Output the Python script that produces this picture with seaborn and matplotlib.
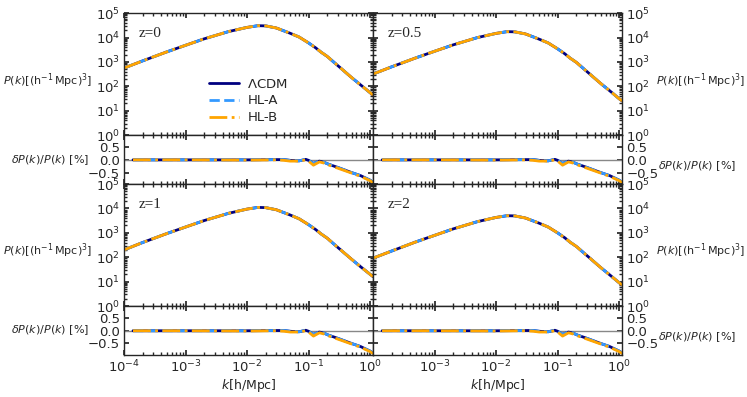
import numpy as np
import pandas as pd
import matplotlib
matplotlib.use('Agg')
import matplotlib.pyplot as plt
from matplotlib.ticker import LogLocator
import seaborn as sns

# wavenumbers [h/Mpc] and linear power spectra
k = [1e-4, 2e-4, 5e-4, 1e-3, 2e-3, 5e-3, 1e-2, 1.5e-2, 2e-2, 3e-2, 5e-2, 7e-2,
     0.1, 0.13, 0.16, 0.2, 0.3, 0.5, 0.7, 1.0, 1.12]
pk_z0 = [560, 1100, 2600, 4800, 8800, 17500, 26000, 30500, 30000, 24500, 15000, 10500,
         6000, 3800, 2500, 1700, 700, 230, 115, 55, 44]
pk_z05 = [320, 630, 1480, 2740, 5000, 10000, 14800, 17400, 17100, 14000, 8550, 6000,
          3420, 2170, 1420, 970, 400, 131, 66, 31, 25]
pk_z1 = [200, 400, 940, 1730, 3170, 6300, 9400, 11000, 10800, 8800, 5400, 3780,
         2160, 1370, 900, 610, 250, 83, 41, 20, 16]
pk_z2 = [92, 180, 430, 790, 1450, 2890, 4290, 5030, 4950, 4040, 2480, 1730,
         990, 630, 410, 280, 116, 38, 19, 9, 7.3]

# relative difference panels
k_ratio = [1.4e-4, 1e-3, 1e-2, 0.03, 0.04, 0.05, 0.07, 0.09, 0.1, 0.12, 0.15, 0.18,
           0.21, 0.3, 0.5, 0.7, 1.0, 1.12]
dp_lcdm = [0, 0, 0, 0.01, 0.01, -0.02, -0.04, 0.02, -0.02, -0.14, -0.05, -0.1,
           -0.17, -0.3, -0.5, -0.62, -0.8, -0.88]
dp_hla = [0, 0, 0, 0.01, 0.01, -0.02, -0.04, 0.02, -0.02, -0.14, -0.05, -0.1,
          -0.17, -0.3, -0.5, -0.62, -0.8, -0.88]
dp_hlb = [0, 0, -0.01, 0.0, -0.02, -0.05, -0.05, 0.0, -0.05, -0.21, -0.08, -0.13,
          -0.2, -0.33, -0.52, -0.65, -0.82, -0.9]

redshifts = ['z=0', 'z=0.5', 'z=1', 'z=2']
pk_all = [pk_z0, pk_z05, pk_z1, pk_z2]
models = [r'$\Lambda$CDM', 'HL-A', 'HL-B']
ratios = [dp_lcdm, dp_hla, dp_hlb]
colors = ['#000080', '#3399ff', '#ffa500']
styles = ['-', '--', '-.']

sns.set_theme(style='ticks', rc={'font.size': 9.5, 'axes.linewidth': 1.0,
                                 'xtick.direction': 'in', 'ytick.direction': 'in',
                                 'xtick.major.size': 3.5, 'ytick.major.size': 3.5,
                                 'xtick.minor.size': 2, 'ytick.minor.size': 2,
                                 'xtick.labelsize': 9.5, 'ytick.labelsize': 9.5,
                                 'xtick.major.pad': 3, 'ytick.major.pad': 3,
                                 'axes.labelsize': 8})
plt.rcParams['font.family'] = ['DejaVu Sans']

fig = plt.figure(figsize=(7.47, 3.97), dpi=100)
gs = fig.add_gridspec(4, 2, height_ratios=[2.5, 1, 2.5, 1], left=0.166, right=0.833,
                      top=0.967, bottom=0.106, wspace=0, hspace=0)

pk_label = r'$P(k)[(\mathrm{h^{-1}\,Mpc})^3]$'
dp_label = r'$\delta P(k)/P(k)$ [%]'

for i, (zname, pk) in enumerate(zip(redshifts, pk_all)):
    row = (i // 2) * 2
    col = i % 2
    ax_p = fig.add_subplot(gs[row, col])
    ax_r = fig.add_subplot(gs[row + 1, col])

    df = pd.DataFrame({'k': k, 'P': pk})
    for name, c, ls in zip(models, colors, styles):
        sns.lineplot(data=df, x='k', y='P', ax=ax_p, color=c, linestyle=ls, lw=2,
                     label=name, sort=False, estimator=None)
    ax_p.set_xscale('log')
    ax_p.set_yscale('log')
    ax_p.set_xlim(1e-4, 1.12)
    ax_p.set_ylim(1, 1e5)
    ax_p.yaxis.set_major_locator(LogLocator(base=10, numticks=10))
    ax_p.yaxis.set_minor_locator(LogLocator(base=10, subs=np.arange(2, 10), numticks=10))
    ax_p.text(0.06, 0.83, zname, transform=ax_p.transAxes, fontsize=11,
              family='Liberation Serif', va='center')

    ax_r.axhline(0, color='#888888', lw=1)
    for name, c, ls, dp in zip(models, colors, styles, ratios):
        sns.lineplot(x=k_ratio, y=dp, ax=ax_r, color=c, linestyle=ls, lw=2,
                     sort=False, estimator=None)
    ax_r.set_xscale('log')
    ax_r.set_xlim(1e-4, 1.12)
    ax_r.set_ylim(-0.95, 0.97)
    ax_r.set_yticks([-0.5, 0.0, 0.5])

    if i == 0:
        ax_p.legend(loc='center', bbox_to_anchor=(0.5, 0.28), frameon=False,
                    handlelength=2.3, handletextpad=0.6, labelspacing=0.3, fontsize=9.5)
    elif ax_p.get_legend() is not None:
        ax_p.get_legend().remove()

    for ax in (ax_p, ax_r):
        ax.tick_params(which='both', direction='in', top=True, right=True,
                       left=True, bottom=True)
        ax.set_xlabel('')
        ax.set_ylabel('')
        if col == 1:
            ax.tick_params(which='both', labelleft=False, labelright=True)
            ax.set_xticks([1e-3, 1e-2, 1e-1, 1e0])
            ax.set_xlim(1e-4, 1.12)
    ax_p.tick_params(labelbottom=False)
    if row == 0:
        ax_r.tick_params(labelbottom=False)
    else:
        ax_r.set_xlabel(r'$k[\mathrm{h/Mpc}]$', fontsize=9, labelpad=1)

    ax_p.set_ylabel(pk_label, rotation=0, fontsize=8)
    ax_r.set_ylabel(dp_label, rotation=0, fontsize=8)
    if col == 0:
        ax_p.yaxis.label.set_ha('right')
        ax_r.yaxis.label.set_ha('right')
        ax_p.yaxis.set_label_coords(-0.129, 0.45)
        ax_r.yaxis.set_label_coords(-0.14, 0.5)
    else:
        ax_p.yaxis.set_label_position('right')
        ax_r.yaxis.set_label_position('right')
        ax_p.yaxis.label.set_ha('left')
        ax_r.yaxis.label.set_ha('left')
        ax_p.yaxis.set_label_coords(1.136, 0.45)
        ax_r.yaxis.set_label_coords(1.144, 0.36)
    ax_p.yaxis.label.set_va('center')
    ax_r.yaxis.label.set_va('center')

fig.savefig('out.png', dpi=100)
